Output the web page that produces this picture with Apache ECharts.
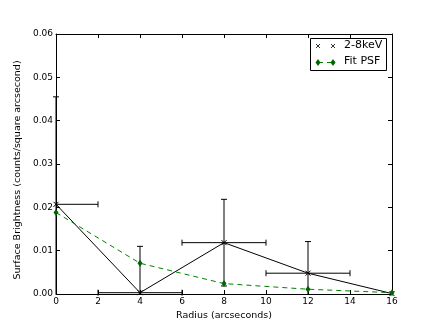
<!DOCTYPE html>
<html><head><meta charset="utf-8">
<script src="https://cdn.jsdelivr.net/npm/echarts@6/dist/echarts.min.js"></script>
<style>html,body{margin:0;padding:0;background:#fff}#c{width:436px;height:327px}</style>
</head><body><div id="c"></div>
<script>
const radius = [0, 4, 8, 12, 16];
const brightness = [0.0207, 0.0003, 0.01185, 0.0048, 0.0001];
const yErr = [0.0248, 0.0107, 0.0100, 0.0073, 0.0];
const xErr = [2, 2, 2, 2, 0];
const fitPSF = [0.0188, 0.0071, 0.0024, 0.0011, 0.0003];
const xTicks = [0, 2, 4, 6, 8, 10, 12, 14, 16];
const yTicks = [0.00, 0.01, 0.02, 0.03, 0.04, 0.05, 0.06];

const font = 'DejaVu Sans';
const X_MIN = xTicks[0], X_MAX = xTicks[xTicks.length - 1];
const Y_MIN = yTicks[0], Y_MAX = yTicks[yTicks.length - 1];
const chart = echarts.init(document.getElementById('c'));
const errData = radius.map((r, i) => [r, brightness[i], r - xErr[i], r + xErr[i], brightness[i] - yErr[i], brightness[i] + yErr[i]]);
const xMark = 'path://M0,0L10,10M10,0L0,10';

const axisCommon = {
  axisLine: {show: true, onZero: false, lineStyle: {color: '#000', width: 1}},
  axisTick: {show: true, inside: true, length: 4, lineStyle: {color: '#000'}},
  splitLine: {show: false}
};

function xLines(cx, cy, h) {
  return [
    {type: 'line', shape: {x1: cx - h, y1: cy - h, x2: cx + h, y2: cy + h}, style: {stroke: '#000', lineWidth: 0.8}, z: 11},
    {type: 'line', shape: {x1: cx - h, y1: cy + h, x2: cx + h, y2: cy - h}, style: {stroke: '#000', lineWidth: 0.8}, z: 11}
  ];
}

chart.setOption({
  animation: false,
  grid: {left: 56, right: 44, top: 34, bottom: 33},
  xAxis: [
    Object.assign({type: 'value', min: X_MIN, max: X_MAX, interval: 2, position: 'bottom',
      name: 'Radius (arcseconds)', nameLocation: 'middle', nameGap: 12,
      nameTextStyle: {fontFamily: font, fontSize: 9.5, color: '#000'},
      axisLabel: {fontFamily: font, fontSize: 9, color: '#000', margin: 3}}, axisCommon),
    Object.assign({type: 'value', min: X_MIN, max: X_MAX, interval: 2, position: 'top',
      axisLabel: {show: false}}, axisCommon)
  ],
  yAxis: [
    Object.assign({type: 'value', min: Y_MIN, max: Y_MAX, interval: 0.01, position: 'left',
      name: 'Surface Brightness (counts/square arcsecond)', nameLocation: 'middle', nameGap: 28,
      nameTextStyle: {fontFamily: font, fontSize: 9.5, color: '#000', padding: [0, 12, 0, 0]},
      axisLabel: {fontFamily: font, fontSize: 9, color: '#000', margin: 3, formatter: v => v.toFixed(2)}}, axisCommon),
    Object.assign({type: 'value', min: Y_MIN, max: Y_MAX, interval: 0.01, position: 'right',
      axisLabel: {show: false}}, axisCommon)
  ],
  series: [
    {
      type: 'custom', clip: false, z: 3,
      data: errData,
      renderItem: function (params, api) {
        const x = api.value(0), y = api.value(1);
        const c = api.coord([x, y]);
        const xl = Math.max(api.value(2), X_MIN), xr = Math.min(api.value(3), X_MAX);
        const yb = Math.max(api.value(4), Y_MIN), yt = Math.min(api.value(5), Y_MAX);
        const l = api.coord([xl, y]);
        const r = api.coord([xr, y]);
        const t = api.coord([x, yt]);
        const b = api.coord([x, yb]);
        const st = {stroke: '#000', lineWidth: 1};
        const cap = 3;
        const kids = [];
        if (api.value(3) !== api.value(2)) {
          kids.push({type: 'line', shape: {x1: l[0], y1: c[1], x2: r[0], y2: c[1]}, style: st});
          if (xl === api.value(2)) kids.push({type: 'line', shape: {x1: l[0], y1: c[1] - cap, x2: l[0], y2: c[1] + cap}, style: st});
          if (xr === api.value(3)) kids.push({type: 'line', shape: {x1: r[0], y1: c[1] - cap, x2: r[0], y2: c[1] + cap}, style: st});
        }
        if (api.value(5) !== api.value(4)) {
          kids.push({type: 'line', shape: {x1: c[0], y1: t[1], x2: c[0], y2: b[1]}, style: st});
          if (yt === api.value(5)) kids.push({type: 'line', shape: {x1: c[0] - cap, y1: t[1], x2: c[0] + cap, y2: t[1]}, style: st});
          if (yb === api.value(4)) kids.push({type: 'line', shape: {x1: c[0] - cap, y1: b[1], x2: c[0] + cap, y2: b[1]}, style: st});
        }
        return {type: 'group', children: kids};
      }
    },
    {
      name: '2-8keV', type: 'line', z: 4,
      data: radius.map((r, i) => [r, brightness[i]]),
      lineStyle: {color: '#000', width: 1},
      symbol: xMark, symbolSize: 5, showSymbol: true,
      itemStyle: {color: 'rgba(0,0,0,0)', borderColor: '#000', borderWidth: 1}
    },
    {
      name: 'Fit PSF', type: 'line', z: 5,
      data: radius.map((r, i) => [r, fitPSF[i]]),
      lineStyle: {color: '#008000', width: 1, type: [5, 4]},
      symbol: 'diamond', symbolSize: [5, 7], showSymbol: true,
      itemStyle: {color: '#006400', borderColor: '#006400', borderWidth: 0}
    }
  ],
  graphic: [
    {type: 'rect', shape: {x: 310.5, y: 38.5, width: 76, height: 32}, style: {fill: '#fff', stroke: '#000', lineWidth: 1}, z: 10}
  ].concat(xLines(318, 46, 2), xLines(333, 46, 2), [
    {type: 'text', x: 344, y: 40, style: {text: '2-8keV', fontFamily: font, fontSize: 11, fill: '#000'}, z: 11},
    {type: 'line', shape: {x1: 318, y1: 62.5, x2: 333, y2: 62.5}, style: {stroke: '#008000', lineWidth: 1, lineDash: [5, 4]}, z: 11},
    {type: 'polygon', shape: {points: [[318, 59], [320.5, 62.5], [318, 66], [315.5, 62.5]]}, style: {fill: '#006400'}, z: 12},
    {type: 'polygon', shape: {points: [[333, 59], [335.5, 62.5], [333, 66], [330.5, 62.5]]}, style: {fill: '#006400'}, z: 12},
    {type: 'text', x: 344, y: 56, style: {text: 'Fit PSF', fontFamily: font, fontSize: 11, fill: '#000'}, z: 11}
  ])
});
</script></body></html>
